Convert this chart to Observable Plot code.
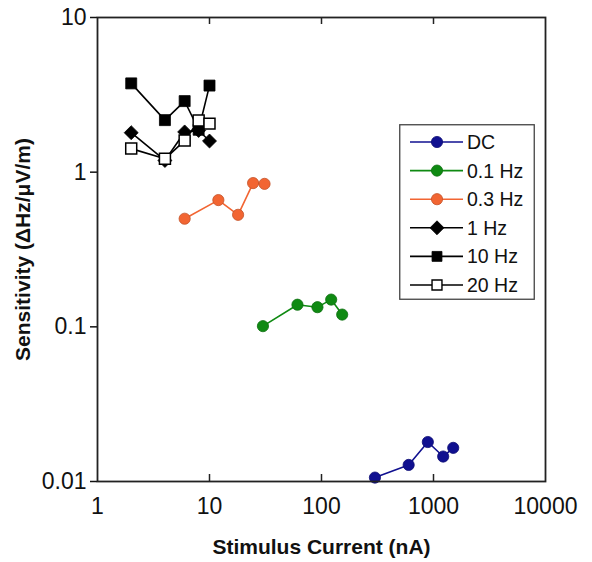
<!DOCTYPE html>
<html>
<head>
<meta charset="utf-8">
<script src="https://cdn.jsdelivr.net/npm/d3@7"></script>
<script src="https://cdn.jsdelivr.net/npm/@observablehq/plot@0.6"></script>
<style>
  html, body { margin: 0; padding: 0; background: #fff; }
  #wrap { position: relative; width: 592px; height: 562px; font-family: "Liberation Sans", Arial, sans-serif; }
  #legend { position: absolute; left: 399px; top: 124px; }
</style>
</head>
<body>
<div id="wrap"></div>
<script>
// ---- data ----
const seriesNames = ["DC", "0.1 Hz", "0.3 Hz", "1 Hz", "10 Hz", "20 Hz"];
const seriesColors = ["#101090", "#0f8a12", "#f26532", "#000000", "#000000", "#000000"];
const seriesSymbols = ["circle", "circle", "circle", "diamond2", "square", "square"];
const seriesFilled = [true, true, true, true, true, false];

const dcCurrent = [300, 600, 890, 1220, 1500];
const dcSens = [0.0106, 0.0128, 0.0180, 0.0145, 0.0165];
const hz01Current = [30, 61, 92, 122, 153];
const hz01Sens = [0.101, 0.139, 0.134, 0.150, 0.120];
const hz03Current = [6, 12, 18, 24.5, 31];
const hz03Sens = [0.50, 0.66, 0.53, 0.85, 0.84];
const hz1Current = [2, 4, 6, 8, 10];
const hz1Sens = [1.80, 1.19, 1.82, 1.86, 1.59];
const hz10Current = [2, 4, 6, 8, 10];
const hz10Sens = [3.75, 2.17, 2.88, 1.88, 3.63];
const hz20Current = [2, 4, 6, 8, 10];
const hz20Sens = [1.42, 1.22, 1.60, 2.16, 2.06];

const xTicks = [1, 10, 100, 1000, 10000];
const xTickLabels = ["1", "10", "100", "1000", "10000"];
const yTicks = [0.01, 0.1, 1, 10];
const yTickLabels = ["0.01", "0.1", "1", "10"];

const xLabel = "Stimulus Current (nA)";
const yLabel = "Sensitivity (\u0394Hz/\u03bcV/m)";

// ---- build table ----
const currents = [dcCurrent, hz01Current, hz03Current, hz1Current, hz10Current, hz20Current];
const sens = [dcSens, hz01Sens, hz03Sens, hz1Sens, hz10Sens, hz20Sens];
const series = seriesNames.map((name, i) => ({
  name, color: seriesColors[i], symbol: seriesSymbols[i], filled: seriesFilled[i],
  points: currents[i].map((c, j) => ({current: c, sens: sens[i][j], series: name}))
}));

function darker(c) { return c === "#000000" ? c : d3.color(c).darker(0.6).formatHex(); }

const W = 592, H = 562, mT = 17, mB = 81, mL = 97, mR = 47;
const innerH = H - mT - mB;
const fontTick = 23;

const marks = [];
for (const s of series) {
  marks.push(Plot.line(s.points, {x: "current", y: "sens", stroke: s.color, strokeWidth: 1.6}));
  const r = s.symbol === "circle" ? 5.6 : (s.symbol === "square" ? 6.2 : 6.3);
  marks.push(Plot.dot(s.points, {
    x: "current", y: "sens", symbol: () => s.symbol, r,
    fill: s.filled ? s.color : "#ffffff",
    stroke: s.filled ? darker(s.color) : "#000000",
    strokeWidth: s.filled ? 0.8 : 1.5
  }));
}

const chart = Plot.plot({
  width: W, height: H,
  marginTop: mT, marginBottom: mB, marginLeft: mL, marginRight: mR,
  style: {fontFamily: "'Liberation Sans', Arial, sans-serif", background: "#fff", color: "#111"},
  symbol: {type: "identity"},
  x: {type: "log", domain: [1, 10000]},
  y: {type: "log", domain: [0.01, 10]},
  marks: [
    Plot.axisX({ticks: xTicks, tickSize: 0, tickPadding: 16, fontSize: fontTick,
      tickFormat: d => xTickLabels[xTicks.indexOf(d)],
      label: xLabel, labelAnchor: "center", labelOffset: 72, labelArrow: "none"}),
    Plot.axisY({ticks: yTicks, tickSize: 7, tickPadding: 4, fontSize: fontTick, strokeWidth: 1.5,
      tickFormat: d => yTickLabels[yTicks.indexOf(d)],
      label: yLabel, labelAnchor: "center", labelOffset: 82, labelArrow: "none"}),
    Plot.tickX(xTicks.slice(1, -1), {x: d => d, insetTop: innerH - 7, stroke: "#222", strokeWidth: 1.5}),
    Plot.tickX(xTicks.slice(1, -1), {x: d => d, insetBottom: innerH - 7, stroke: "#222", strokeWidth: 1.5}),
    ...marks,
    Plot.frame({stroke: "#222", strokeWidth: 1.8})
  ]
});
document.getElementById("wrap").appendChild(chart);

// bold axis labels
d3.select(chart).selectAll("g[aria-label='x-axis label'] text, g[aria-label='y-axis label'] text")
  .style("font-weight", "bold").style("font-size", "21px");

// ---- legend ----
const LW = 136, LH = 176, rowY0 = 18, rowStep = 28.6;
const leg = d3.select("#wrap").append("svg").attr("id", "legend")
  .attr("width", LW).attr("height", LH);
leg.append("rect").attr("x", 0.75).attr("y", 0.75).attr("width", LW - 1.5).attr("height", LH - 1.5)
  .attr("fill", "#fff").attr("stroke", "#444").attr("stroke-width", 1.3);
series.forEach((s, i) => {
  const y = rowY0 + i * rowStep;
  const g = leg.append("g");
  g.append("line").attr("x1", 11).attr("x2", 64).attr("y1", y).attr("y2", y)
    .attr("stroke", s.color).attr("stroke-width", 1.6);
  const r = s.symbol === "circle" ? 5.6 : (s.symbol === "square" ? 5.6 : 6.3);
  const sym = s.symbol === "circle" ? d3.symbolCircle : s.symbol === "square" ? d3.symbolSquare : d3.symbolDiamond2;
  g.append("path").attr("transform", `translate(38,${y})`)
    .attr("d", d3.symbol(sym, Math.PI * r * r)())
    .attr("fill", s.filled ? s.color : "#fff")
    .attr("stroke", s.filled ? darker(s.color) : "#000").attr("stroke-width", s.filled ? 0.8 : 1.4);
  g.append("text").attr("x", 68).attr("y", y).attr("dy", "0.36em")
    .attr("font-size", 19.5).attr("fill", "#111").text(s.name);
});
</script>
</body>
</html>
